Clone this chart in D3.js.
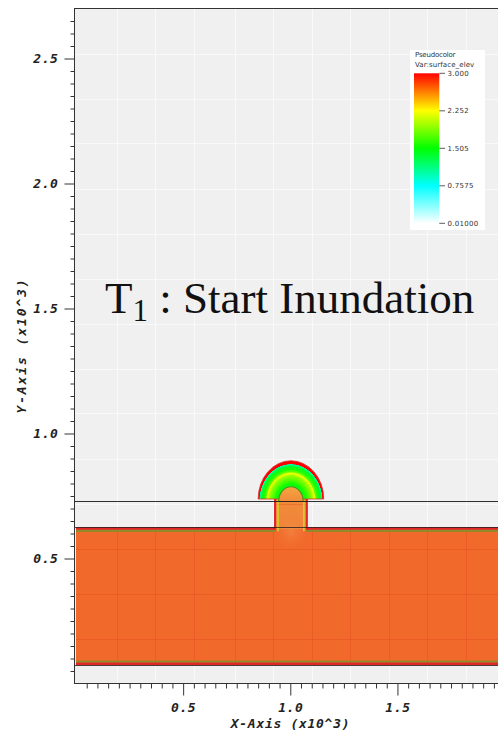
<!DOCTYPE html>
<html>
<head>
<meta charset="utf-8">
<script src="https://cdn.jsdelivr.net/npm/d3@7"></script>
<style>
  html, body { margin: 0; padding: 0; background: #ffffff; }
  svg { display: block; }
</style>
</head>
<body>
<svg id="chart" width="498" height="733"></svg>
<script>
// ---- Axis ticks (units of x10^3) ----
const xMajorTicks = [0.5, 1.0, 1.5];
const yMajorTicks = [0.5, 1.0, 1.5, 2.0, 2.5];
const xMinorTicks = [0.05,0.1,0.15,0.2,0.25,0.3,0.35,0.4,0.45,0.55,0.6,0.65,0.7,0.75,0.8,0.85,0.9,0.95,
                     1.05,1.1,1.15,1.2,1.25,1.3,1.35,1.4,1.45,1.55,1.6,1.65,1.7,1.75,1.8,1.85,1.9,1.95];
const yMinorTicks = [0.05,0.1,0.15,0.2,0.25,0.3,0.35,0.4,0.45,0.55,0.6,0.65,0.7,0.75,0.8,0.85,0.9,0.95,
                     1.05,1.1,1.15,1.2,1.25,1.3,1.35,1.4,1.45,1.55,1.6,1.65,1.7,1.75,1.8,1.85,1.9,1.95,
                     2.05,2.1,2.15,2.2,2.25,2.3,2.35,2.4,2.45,2.55,2.6,2.65];

// ---- Mesh block boundaries ----
const meshX = [0.19, 0.37, 0.55, 0.74, 0.92, 1.10, 1.28, 1.46, 1.64, 1.82];
const meshY = [0.18, 0.36, 0.54, 0.72, 0.90, 1.08, 1.26, 1.44, 1.62, 1.80, 1.98, 2.16, 2.34, 2.52];

// ---- Colour table for surface_elev ----
const legendValues = [0.01, 0.7575, 1.505, 2.252, 3.0];
const legendLabels = ["0.01000", "0.7575", "1.505", "2.252", "3.000"];
const legendColors = ["#ffffff", "#00ffff", "#00ff00", "#ffff00", "#ff0000"];

// ---- Scene geometry (x10^3) ----
const basin = { x0: 0.0, x1: 2.0, y0: 0.073, y1: 0.625 };
const groundLevel = 0.73;
const channel = { x0: 0.931, x1: 1.075 };
const flood = { cx: 1.003, r: 0.153 };
const crestRadius = 0.057;

// surface_elev across the flooded front: [fraction of radius, value]
const floodOffsets = [0.00, 0.36, 0.45, 0.55, 0.66, 0.70, 0.73, 0.76, 0.82, 0.90, 0.955, 0.968, 1.00];
const floodValues  = [1.50, 1.45, 1.55, 1.75, 1.95, 2.15, 2.20, 1.80, 1.60, 1.40, 1.00, 3.00, 3.00];

// ---- Scales ----
const x = d3.scaleLinear().domain([0, 2.0]).range([76, 504.6]);
const y = d3.scaleLinear().domain([0, 2.7]).range([683.5, 8.5]);
const color = d3.scaleLinear().domain(legendValues).range(legendColors);

const svg = d3.select("#chart");
const defs = svg.append("defs");

const plotL = 74.5, plotT = Math.round(y(2.7)) - 0.5, plotB = Math.round(y(0)) - 0.5, plotR = x(2.0);

defs.append("clipPath").attr("id", "plotClip")
  .append("rect").attr("x", plotL).attr("y", plotT)
  .attr("width", plotR - plotL).attr("height", plotB - plotT);

const plot = svg.append("g").attr("clip-path", "url(#plotClip)");

// background
plot.append("rect").attr("x", plotL).attr("y", plotT)
  .attr("width", plotR - plotL).attr("height", plotB - plotT).attr("fill", "#f0f0f0");

// mesh lines
function drawMesh(g, stroke, opacity) {
  g.selectAll("line.mx").data(meshX).join("line").attr("class", "mx")
    .attr("x1", d => Math.round(x(d)) + 0.5).attr("x2", d => Math.round(x(d)) + 0.5)
    .attr("y1", plotT).attr("y2", plotB)
    .attr("stroke", stroke).attr("stroke-opacity", opacity).attr("stroke-width", 1);
  g.selectAll("line.my").data(meshY).join("line").attr("class", "my")
    .attr("y1", d => Math.round(y(d)) + 0.5).attr("y2", d => Math.round(y(d)) + 0.5)
    .attr("x1", plotL).attr("x2", plotR)
    .attr("stroke", stroke).attr("stroke-opacity", opacity).attr("stroke-width", 1);
}
drawMesh(plot.append("g"), "#f9f9f9", 1);

// ---- Water body ----
const wx0 = x(basin.x0), wx1 = x(basin.x1), wTop = y(basin.y1), wBot = y(basin.y0);
const cx0 = x(channel.x0), cx1 = x(channel.x1), gY = y(groundLevel);

const waterPath = `M${wx0},${wTop}H${cx0}V${gY - 2}H${cx1}V${wTop}H${wx1}V${wBot}H${wx0}Z`;
defs.append("clipPath").attr("id", "waterClip").append("path").attr("d", waterPath);

plot.append("rect").attr("x", wx0).attr("y", wTop).attr("width", wx1 - wx0).attr("height", wBot - wTop)
  .attr("fill", "#f1692b");
plot.append("rect").attr("x", cx0).attr("y", gY - 2).attr("width", cx1 - cx0).attr("height", wTop - gY + 4)
  .attr("fill", "#f08a3a");

// brighter outflow below the channel mouth
const glow = defs.append("radialGradient").attr("id", "glow");
glow.append("stop").attr("offset", 0).attr("stop-color", "#f4904a").attr("stop-opacity", 0.6);
glow.append("stop").attr("offset", 1).attr("stop-color", "#f1692b").attr("stop-opacity", 0);
plot.append("ellipse").attr("cx", x(flood.cx)).attr("cy", wTop + 4)
  .attr("rx", x(0.1) - x(0)).attr("ry", y(0) - y(0.09)).attr("fill", "url(#glow)")
  .attr("clip-path", "url(#waterClip)");

// mesh lines over the water
drawMesh(plot.append("g").attr("clip-path", "url(#waterClip)"), "#e2401a", 0.3);

// wet/dry edge bands
const bandRed = "#e0262a", bandOlive = "#8a8e2a";
[[wx0, cx0], [cx1, wx1]].forEach(([a, b]) => {
  plot.append("rect").attr("x", a).attr("y", wTop).attr("width", b - a).attr("height", 2.6).attr("fill", bandRed);
  plot.append("rect").attr("x", a).attr("y", wTop + 2.6).attr("width", b - a).attr("height", 2).attr("fill", bandOlive);
});
plot.append("rect").attr("x", wx0).attr("y", wBot - 4.6).attr("width", wx1 - wx0).attr("height", 2).attr("fill", bandOlive);
plot.append("rect").attr("x", wx0).attr("y", wBot - 2.6).attr("width", wx1 - wx0).attr("height", 2.6).attr("fill", bandRed);

// channel walls
[[cx0 - 0.5, cx0 + 2.5], [cx1 + 0.5, cx1 - 2.5]].forEach(([r, yl]) => {
  plot.append("line").attr("x1", r).attr("x2", r).attr("y1", gY - 3).attr("y2", wTop + 2.6)
    .attr("stroke", bandRed).attr("stroke-width", 2);
  plot.append("line").attr("x1", yl).attr("x2", yl).attr("y1", gY - 3).attr("y2", wTop + 4)
    .attr("stroke", "#c9d82a").attr("stroke-width", 1.5);
});

// ---- Flood front spreading from the channel ----
const rxPx = x(flood.cx + flood.r) - x(flood.cx);
const ryPx = y(0) - y(flood.r);
const fcx = x(flood.cx);
const domeBase = gY - 2;

const fg = defs.append("radialGradient").attr("id", "floodGrad")
  .attr("gradientUnits", "userSpaceOnUse")
  .attr("cx", fcx).attr("cy", gY).attr("r", rxPx).attr("fx", fcx).attr("fy", gY)
  .attr("gradientTransform", `translate(${fcx},${gY}) scale(1,${ryPx / rxPx}) translate(${-fcx},${-gY})`);
fg.selectAll("stop").data(floodOffsets).join("stop")
  .attr("offset", d => d).attr("stop-color", (d, i) => color(floodValues[i]));

plot.append("path")
  .attr("d", `M${fcx - rxPx},${domeBase}A${rxPx},${ryPx} 0 0 1 ${fcx + rxPx},${domeBase}Z`)
  .attr("fill", "url(#floodGrad)")
  .attr("stroke", bandRed).attr("stroke-width", 0.8);

// water standing above the channel
const crx = x(flood.cx + crestRadius) - x(flood.cx);
const cry = y(0) - y(crestRadius);
const crestGrad = defs.append("linearGradient").attr("id", "crestGrad")
  .attr("x1", 0).attr("y1", 0).attr("x2", 0).attr("y2", 1);
crestGrad.append("stop").attr("offset", 0).attr("stop-color", "#f6a440");
crestGrad.append("stop").attr("offset", 1).attr("stop-color", "#f08a3a");
plot.append("path")
  .attr("d", `M${fcx - crx},${gY + 1}V${gY}A${crx},${cry} 0 0 1 ${fcx + crx},${gY}V${gY + 1}Z`)
  .attr("fill", "url(#crestGrad)");
plot.append("path")
  .attr("d", `M${fcx - crx},${gY + 1}V${gY}A${crx},${cry} 0 0 1 ${fcx + crx},${gY}V${gY + 1}`)
  .attr("fill", "none").attr("stroke", "#4f8f22").attr("stroke-width", 1.1);

// ---- Boundary lines ----
[[groundLevel, 0.9], [basin.y1, 0.75], [basin.y0, 0.75]].forEach(([v, op]) => {
  const yy = Math.round(y(v)) + 0.5;
  plot.append("line").attr("x1", plotL).attr("x2", plotR).attr("y1", yy).attr("y2", yy)
    .attr("stroke", "#1a1a1a").attr("stroke-opacity", op).attr("stroke-width", 1);
});

// ---- Frame ----
svg.append("rect").attr("x", plotL).attr("y", plotT)
  .attr("width", plotR - plotL).attr("height", plotB - plotT)
  .attr("fill", "none").attr("stroke", "#333").attr("stroke-width", 1);

// ---- Axes ----
const tickFont = g => g.selectAll("text")
  .attr("font-family", "'DejaVu Sans Mono', monospace")
  .attr("font-weight", "bold").attr("font-style", "italic")
  .attr("font-size", 13).attr("letter-spacing", "0.6px").attr("fill", "#222");
const tickStroke = g => { g.select(".domain").remove(); g.selectAll("line").attr("stroke", "#333"); };

const gy = svg.append("g").attr("transform", `translate(${plotL},0)`);
gy.append("g").call(d3.axisLeft(y).tickValues(yMinorTicks).tickSize(4).tickFormat("")).call(tickStroke);
gy.append("g").call(d3.axisLeft(y).tickValues(yMajorTicks).tickSize(10).tickPadding(6).tickFormat(d3.format(".1f")))
  .call(tickStroke).call(tickFont);

const gx = svg.append("g").attr("transform", `translate(0,${plotB})`);
gx.append("g").call(d3.axisBottom(x).tickValues(xMinorTicks).tickSize(5).tickFormat("")).call(tickStroke);
gx.append("g").call(d3.axisBottom(x).tickValues(xMajorTicks).tickSize(12).tickPadding(7).tickFormat(d3.format(".1f")))
  .call(tickStroke).call(tickFont);

svg.append("text").attr("x", 290.5).attr("y", 728).attr("text-anchor", "middle")
  .attr("font-family", "'DejaVu Sans Mono', monospace").attr("font-weight", "bold").attr("font-style", "italic")
  .attr("font-size", 13).attr("letter-spacing", "0.7px").attr("fill", "#222")
  .text("X-Axis (x10^3)");
svg.append("text").attr("transform", "translate(25.5,345.5) rotate(-90)").attr("text-anchor", "middle")
  .attr("font-family", "'DejaVu Sans Mono', monospace").attr("font-weight", "bold").attr("font-style", "italic")
  .attr("font-size", 13).attr("letter-spacing", "1.9px").attr("fill", "#222")
  .text("Y-Axis (x10^3)");

// ---- Title ----
const title = svg.append("text").attr("x", 105).attr("y", 313)
  .attr("font-family", "'Liberation Serif', 'DejaVu Serif', serif").attr("font-size", 45).attr("fill", "#111");
title.append("tspan").text("T");
title.append("tspan").attr("font-size", 31).attr("dy", 8).text("1");
title.append("tspan").attr("dy", -8).text(" : Start Inundation");

// ---- Legend ----
const lg = svg.append("g");
lg.append("rect").attr("x", 410).attr("y", 50).attr("width", 75).attr("height", 180).attr("fill", "#ffffff");
const legFont = s => s.attr("font-family", "'DejaVu Sans', sans-serif").attr("font-size", 7).attr("fill", "#333");
lg.append("text").attr("x", 415).attr("y", 56.5).text("Pseudocolor").call(legFont).attr("letter-spacing", "-0.2px");
lg.append("text").attr("x", 415).attr("y", 66.5).text("Var:surface_elev").call(legFont).attr("letter-spacing", "0.1px");

const barTop = 73.3, barBot = 223.3;
const ly = d3.scaleLinear().domain([legendValues[0], legendValues[legendValues.length - 1]]).range([barBot, barTop]);
const bar = defs.append("linearGradient").attr("id", "barGrad")
  .attr("x1", 0).attr("y1", 1).attr("x2", 0).attr("y2", 0);
bar.selectAll("stop").data(legendValues).join("stop")
  .attr("offset", d => (d - legendValues[0]) / (legendValues[legendValues.length - 1] - legendValues[0]))
  .attr("stop-color", d => color(d));
lg.append("rect").attr("x", 414).attr("y", barTop).attr("width", 25.3).attr("height", barBot - barTop)
  .attr("fill", "url(#barGrad)");
lg.selectAll("line.lt").data(legendValues).join("line").attr("class", "lt")
  .attr("x1", 439.3).attr("x2", 445).attr("y1", d => ly(d)).attr("y2", d => ly(d))
  .attr("stroke", "#333").attr("stroke-width", 0.8);
lg.selectAll("text.ll").data(legendValues).join("text").attr("class", "ll")
  .attr("x", 447.5).attr("y", d => ly(d)).attr("dy", "0.35em")
  .text((d, i) => legendLabels[i]).call(legFont).attr("letter-spacing", "0.3px");
</script>
</body>
</html>
